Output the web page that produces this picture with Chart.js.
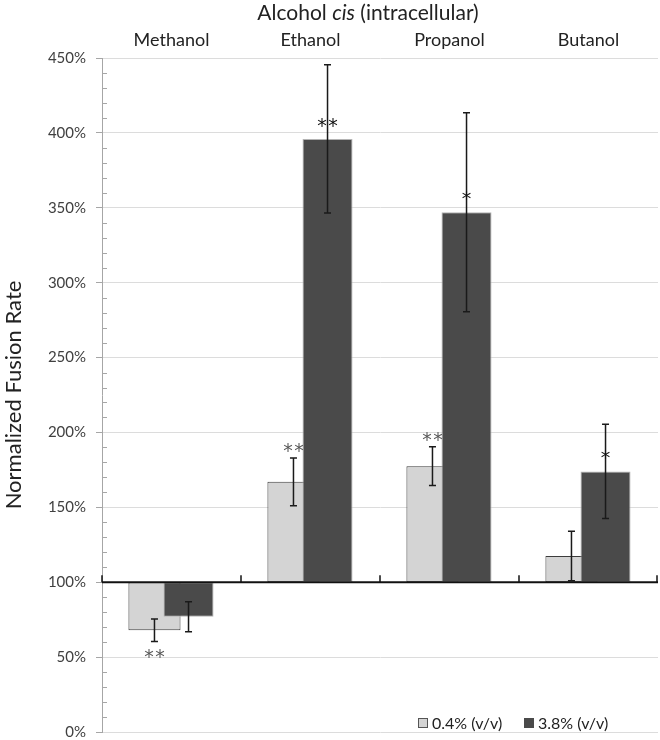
<!DOCTYPE html>
<html>
<head>
<meta charset="utf-8">
<script src="https://cdn.jsdelivr.net/npm/chart.js@4"></script>
<style>
  html, body { margin: 0; padding: 0; background: #fff; }
</style>
</head>
<body>
<canvas id="chart" width="660" height="740"></canvas>
<script>
const alcohols = ['Methanol', 'Ethanol', 'Propanol', 'Butanol'];
const seriesNames = ['0.4% (v/v)', '3.8% (v/v)'];
const lowDose = [68, 167, 177.5, 117.5];
const lowErr = [7.5, 16, 13, 16.5];
const highDose = [77, 396, 347, 174];
const highErr = [10, 49.5, 66.5, 31.5];
const lowSig = ['**', '**', '**', ''];
const highSig = ['', '**', '*', '*'];
const yTicks = [0, 50, 100, 150, 200, 250, 300, 350, 400, 450];
const baseline = 100;

const FONT = 'Lato, "Open Sans", sans-serif';
const STAR_FONT = '"DejaVu Sans", sans-serif';
const lightFill = '#d4d4d4';
const darkFill = '#4a4a4a';

// bars hang off the 100% line, so each one is a [from, to] pair
const floating = vals => vals.map(v => [baseline, v]);

function drawStars(ctx, text, x, centerY) {
  // one glyph at a time so the pair gets a little gap, like the original
  const n = text.length;
  for (let k = 0; k < n; k++) {
    const sx = x + (k - (n - 1) / 2) * 11;
    ctx.fillText('*', sx, centerY + 10);
  }
}

const extras = {
  id: 'extras',
  beforeDatasetsDraw(chart) {
    // the dark bars overlap the light ones, so paint the light series first
    chart.getDatasetMeta(0).controller.draw();
    chart.getDatasetMeta(1).controller.draw();
    return false;
  },
  afterDraw(chart) {
    const ctx = chart.ctx;
    const y = chart.scales.y;
    const a = chart.chartArea;
    ctx.save();

    // minor ticks every 10%
    ctx.strokeStyle = '#a6a6a6';
    ctx.lineWidth = 1;
    for (let v = 10; v < yTicks[yTicks.length - 1]; v += 10) {
      if (v % 50 === 0) continue;
      const py = Math.round(y.getPixelForValue(v)) + 0.5;
      ctx.beginPath();
      ctx.moveTo(a.left, py);
      ctx.lineTo(a.left + 5, py);
      ctx.stroke();
    }

    // 100% axis line with category separators
    const by = y.getPixelForValue(baseline);
    ctx.strokeStyle = '#111';
    ctx.lineWidth = 2;
    ctx.beginPath();
    ctx.moveTo(a.left, by);
    ctx.lineTo(a.right, by);
    ctx.stroke();
    const step = (a.right - a.left) / alcohols.length;
    ctx.lineWidth = 1.5;
    for (let i = 0; i <= alcohols.length; i++) {
      const px = Math.min(a.left + i * step, a.right - 1);
      ctx.beginPath();
      ctx.moveTo(px, by);
      ctx.lineTo(px, by - 7);
      ctx.stroke();
    }

    // error bars
    const series = [[lowDose, lowErr], [highDose, highErr]];
    ctx.strokeStyle = '#1a1a1a';
    ctx.lineWidth = 1.5;
    series.forEach(([vals, errs], d) => {
      chart.getDatasetMeta(d).data.forEach((bar, i) => {
        const top = y.getPixelForValue(vals[i] + errs[i]);
        const bot = y.getPixelForValue(vals[i] - errs[i]);
        ctx.beginPath();
        ctx.moveTo(bar.x, top);
        ctx.lineTo(bar.x, bot);
        ctx.moveTo(bar.x - 3.5, top);
        ctx.lineTo(bar.x + 3.5, top);
        ctx.moveTo(bar.x - 3.5, bot);
        ctx.lineTo(bar.x + 3.5, bot);
        ctx.stroke();
      });
    });

    // significance stars
    ctx.font = '19px ' + STAR_FONT;
    ctx.textAlign = 'center';
    ctx.textBaseline = 'alphabetic';
    chart.getDatasetMeta(0).data.forEach((bar, i) => {
      if (!lowSig[i]) return;
      const v = lowDose[i], e = lowErr[i];
      const cy = v >= baseline ? y.getPixelForValue(v + e) - 11 : y.getPixelForValue(v - e) + 12;
      ctx.fillStyle = '#5a5a5a';
      drawStars(ctx, lowSig[i], bar.x, cy);
    });
    chart.getDatasetMeta(1).data.forEach((bar, i) => {
      if (!highSig[i]) return;
      const cy = y.getPixelForValue(highDose[i]) - 17;
      ctx.fillStyle = '#111';
      drawStars(ctx, highSig[i], bar.x, cy);
    });

    // title with italic "cis"
    const parts = [['Alcohol ', ''], ['cis', 'italic '], [' (intracellular)', '']];
    let total = 0;
    parts.forEach(([t, s]) => { ctx.font = s + '21px ' + FONT; total += ctx.measureText(t).width; });
    let tx = 368 - total / 2;
    ctx.fillStyle = '#222';
    ctx.textAlign = 'left';
    ctx.textBaseline = 'middle';
    parts.forEach(([t, s]) => {
      ctx.font = s + '21px ' + FONT;
      ctx.fillText(t, tx, 13);
      tx += ctx.measureText(t).width;
    });

    // legend inside the plot, bottom right
    const items = [[seriesNames[0], lightFill, '#555', 418], [seriesNames[1], darkFill, darkFill, 524]];
    ctx.font = '16px ' + FONT;
    items.forEach(([label, fill, stroke, lx]) => {
      ctx.fillStyle = fill;
      ctx.fillRect(lx, 718, 10, 10);
      ctx.strokeStyle = stroke;
      ctx.lineWidth = 1;
      ctx.strokeRect(lx + 0.5, 718.5, 9, 9);
      ctx.fillStyle = '#222';
      ctx.fillText(label, lx + 14, 723.5);
    });

    ctx.restore();
  }
};

new Chart(document.getElementById('chart'), {
  type: 'bar',
  data: {
    labels: alcohols,
    datasets: [
      {
        label: seriesNames[0],
        data: floating(lowDose),
        backgroundColor: lightFill,
        borderColor: '#3c3c3c',
        borderWidth: 1,
        borderSkipped: false,
        categoryPercentage: 0.49,
        barPercentage: 1.53
      },
      {
        label: seriesNames[1],
        data: floating(highDose),
        backgroundColor: darkFill,
        borderColor: '#b4b4b4',
        borderWidth: 1,
        borderSkipped: false,
        categoryPercentage: 0.49,
        barPercentage: 1.47
      }
    ]
  },
  options: {
    responsive: false,
    animation: false,
    layout: { padding: { top: 0, right: 2, bottom: 8, left: 0 } },
    plugins: {
      legend: { display: false },
      tooltip: { enabled: false }
    },
    scales: {
      x: {
        position: 'top',
        grid: { display: false, drawTicks: false },
        border: { display: false },
        ticks: { color: '#222', font: { family: FONT, size: 18 }, padding: 7 },
        afterFit(scale) { scale.height = 58; }
      },
      y: {
        min: 0,
        max: 450,
        afterBuildTicks(scale) { scale.ticks = yTicks.map(v => ({ value: v })); },
        ticks: { callback: v => v + '%', color: '#404040', font: { family: FONT, size: 15 }, padding: 10 },
        grid: { color: '#dcdcdc', tickColor: '#a6a6a6', tickLength: 6 },
        border: { color: '#a6a6a6' },
        title: {
          display: true,
          text: 'Normalized Fusion Rate',
          color: '#222',
          font: { family: FONT, size: 22 },
          padding: { top: 1, bottom: 0 }
        },
        afterFit(scale) {
          scale.width = 102;
          scale.paddingTop = 0;
          scale.paddingBottom = 0;
        }
      }
    }
  },
  plugins: [extras]
});
</script>
</body>
</html>
